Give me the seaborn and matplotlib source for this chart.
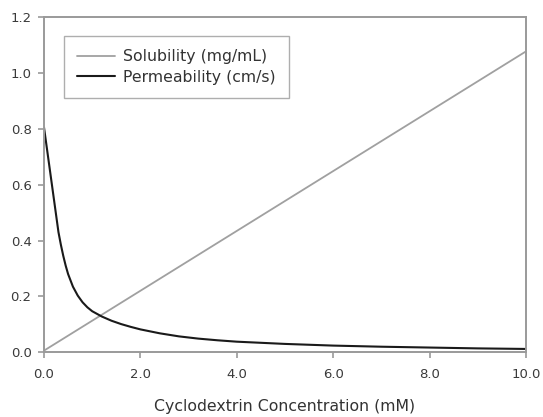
import matplotlib
matplotlib.use("Agg")
import matplotlib.pyplot as plt
import seaborn as sns
import pandas as pd

# Data
sol_x = [0.0, 10.0]
sol_y = [0.006, 1.077]

perm_x = [0.0, 0.3, 0.35, 0.4, 0.45, 0.5, 0.6, 0.7, 0.8, 0.9, 1.0, 1.2, 1.4, 1.6, 1.8,
          2.0, 2.4, 2.8, 3.2, 3.6, 4.0, 4.5, 5.0, 6.0, 7.0, 8.0, 9.0, 10.0]
perm_y = [0.805, 0.43, 0.385, 0.345, 0.31, 0.28, 0.235, 0.203, 0.179, 0.161, 0.147, 0.128,
          0.113, 0.101, 0.091, 0.082, 0.068, 0.057, 0.049, 0.043, 0.038, 0.034, 0.030,
          0.024, 0.020, 0.017, 0.014, 0.012]

x_ticks = [0.0, 2.0, 4.0, 6.0, 8.0, 10.0]
y_ticks = [0.0, 0.2, 0.4, 0.6, 0.8, 1.0, 1.2]

sol_label = "Solubility (mg/mL)"
perm_label = "Permeability (cm/s)"
x_title = "Cyclodextrin Concentration (mM)"

sns.set_style("ticks")
plt.rcParams["font.family"] = ["DejaVu Sans"]

df_sol = pd.DataFrame({"x": sol_x, "y": sol_y})
df_perm = pd.DataFrame({"x": perm_x, "y": perm_y})

fig = plt.figure(figsize=(5.43, 4.17), dpi=100)
ax = fig.add_axes([44 / 543, 1 - 352.3 / 417, 482 / 543, 335.3 / 417])

sns.lineplot(data=df_sol, x="x", y="y", ax=ax, color="#a0a0a0", linewidth=1.3, label=sol_label)
sns.lineplot(data=df_perm, x="x", y="y", ax=ax, color="#1a1a1a", linewidth=1.5, label=perm_label)

ax.set_xlim(0, 10)
ax.set_ylim(0, 1.2)
ax.set_xticks(x_ticks)
ax.set_xticklabels([f"{v:.1f}" for v in x_ticks])
ax.set_yticks(y_ticks)
ax.set_yticklabels([f"{v:.1f}" for v in y_ticks])

for s in ax.spines.values():
    s.set_visible(True)
    s.set_color("#9a9a9a")
    s.set_linewidth(1.4)

ax.tick_params(axis="both", direction="out", length=4, width=1.2, color="#9a9a9a",
               labelsize=9.5, labelcolor="#3a3a3a", pad=5)
ax.tick_params(axis="x", pad=7)

ax.set_xlabel(x_title, fontsize=11.3, color="#333333", labelpad=13)
ax.set_ylabel("")

leg = ax.legend(loc="upper left", bbox_to_anchor=(0.0415, 0.943), borderaxespad=0,
                fontsize=11.3, frameon=True, fancybox=False, handlelength=2.4,
                handletextpad=0.5, borderpad=0.85, labelspacing=0.33)
leg.get_frame().set_edgecolor("#9a9a9a")
leg.get_frame().set_linewidth(1.0)
for t in leg.get_texts():
    t.set_color("#333333")

fig.savefig("out.png", dpi=100)
